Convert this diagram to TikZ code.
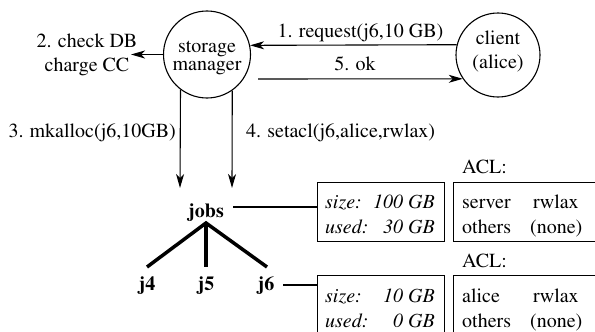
\documentclass[tikz,border=0pt]{standalone}
\usepackage[T1]{fontenc}
\usepackage{mathptmx}
\usetikzlibrary{arrows.meta}
\begin{document}
\begin{tikzpicture}[x=1pt,y=-1pt,
  every node/.style={font=\rmfamily\fontsize{20}{24}\selectfont, inner sep=0pt},
  ln/.style={line width=1.1pt},
  arr/.style={ln, -{Stealth[length=14pt,width=8pt,inset=4pt]}},
  tree/.style={line width=3.5pt},
  circ/.style={draw, circle, ln, minimum size=87pt},
  box/.style={draw, ln, rectangle, minimum height=59pt, anchor=north west},
  txt/.style={anchor=base},
  lt/.style={anchor=base west},
  rt/.style={anchor=base east},
  it/.style={font=\rmfamily\fontsize{20}{24}\selectfont\itshape},
  bf/.style={font=\rmfamily\fontsize{20}{24}\selectfont\bfseries},
]
\clip (0,0) rectangle (595,332);
% circles
\node[circ] (sm) at (207,54.5) {};
\node[txt] (smt1) at (207,52.5) {storage};
\node[txt] (smt2) at (207,70) {manager};
\node[circ, minimum size=84pt] (cl) at (498,55) {};
\node[txt] (clt1) at (498,45) {client};
\node[txt] (clt2) at (498,68) {(alice)};
% messages between client and manager
\draw[arr] (cl.166.2) -- (sm.12.5);
\node[txt] (m1) at (360.5,37) {1. request(j6,10 GB)};
\coordinate (c5) at (258,79);
\draw[arr] (c5) -- (cl.214.8);
\node[txt] (m5) at (355,70) {5. ok};
% check DB
\coordinate (c2) at (131,54.5);
\draw[arr] (sm.west) -- (c2);
\node[txt] (m2a) at (87,47) {2. check DB};
\node[txt] (m2b) at (87,71) {charge CC};
% down arrows
\coordinate (a3) at (180,188);
\coordinate (a4) at (232,188);
\draw[arr] (sm.-127.9) -- (a3);
\draw[arr] (sm.-55.4) -- (a4);
\node[rt] (m3) at (176,137) {3. mkalloc(j6,10GB)};
\node[lt] (m4) at (246,137) {4. setacl(j6,alice,rwlax)};
% tree
\node[txt, bf] (jobs) at (206,217) {jobs};
\node[txt, bf] (j4) at (147,290) {j4};
\node[txt, bf] (j5) at (206,290) {j5};
\node[txt, bf] (j6) at (266,290) {j6};
\coordinate (apex) at (206,223);
\coordinate (l4) at (147,267);
\coordinate (l5) at (206,267);
\coordinate (l6) at (267,267);
\draw[tree] (l4) -- (apex) -- (l6);
\draw[tree] (apex) -- (l5);
% boxes
\node[box, minimum width=127pt] (b1) at (317,182) {};
\node[box, minimum width=127pt] (b2) at (317,275) {};
\node[box, minimum width=150pt] (acl1) at (453,182) {};
\node[box, minimum width=150pt] (acl2) at (453,275) {};
\coordinate (s1) at (233,207);
\coordinate (s2) at (283,285);
\draw[ln] (s1) -- (s1 -| b1.west);
\draw[ln] (s2) -- (s2 -| b2.west);
% box 1 text
\node[lt, it] (b1a) at (325,208) {size:};
\node[rt, it] (b1b) at (435,208) {100 GB};
\node[lt, it] (b1c) at (325,233) {used:};
\node[rt, it] (b1d) at (435,233) {30 GB};
% box 2 text
\node[lt, it] (b2a) at (325,302) {size:};
\node[rt, it] (b2b) at (435,302) {10 GB};
\node[lt, it] (b2c) at (325,327) {used:};
\node[rt, it] (b2d) at (435,327) {0 GB};
% ACL texts
\node[lt] (h1) at (462,173) {ACL:};
\node[lt] (a1a) at (462,208) {server};
\node[lt] (a1b) at (533,208) {rwlax};
\node[lt] (a1c) at (462,233) {others};
\node[lt] (a1d) at (530,233) {(none)};
\node[lt] (h2) at (462,267) {ACL:};
\node[lt] (a2a) at (462,302) {alice};
\node[lt] (a2b) at (533,302) {rwlax};
\node[lt] (a2c) at (462,327) {others};
\node[lt] (a2d) at (530,327) {(none)};
\end{tikzpicture}
\end{document}
